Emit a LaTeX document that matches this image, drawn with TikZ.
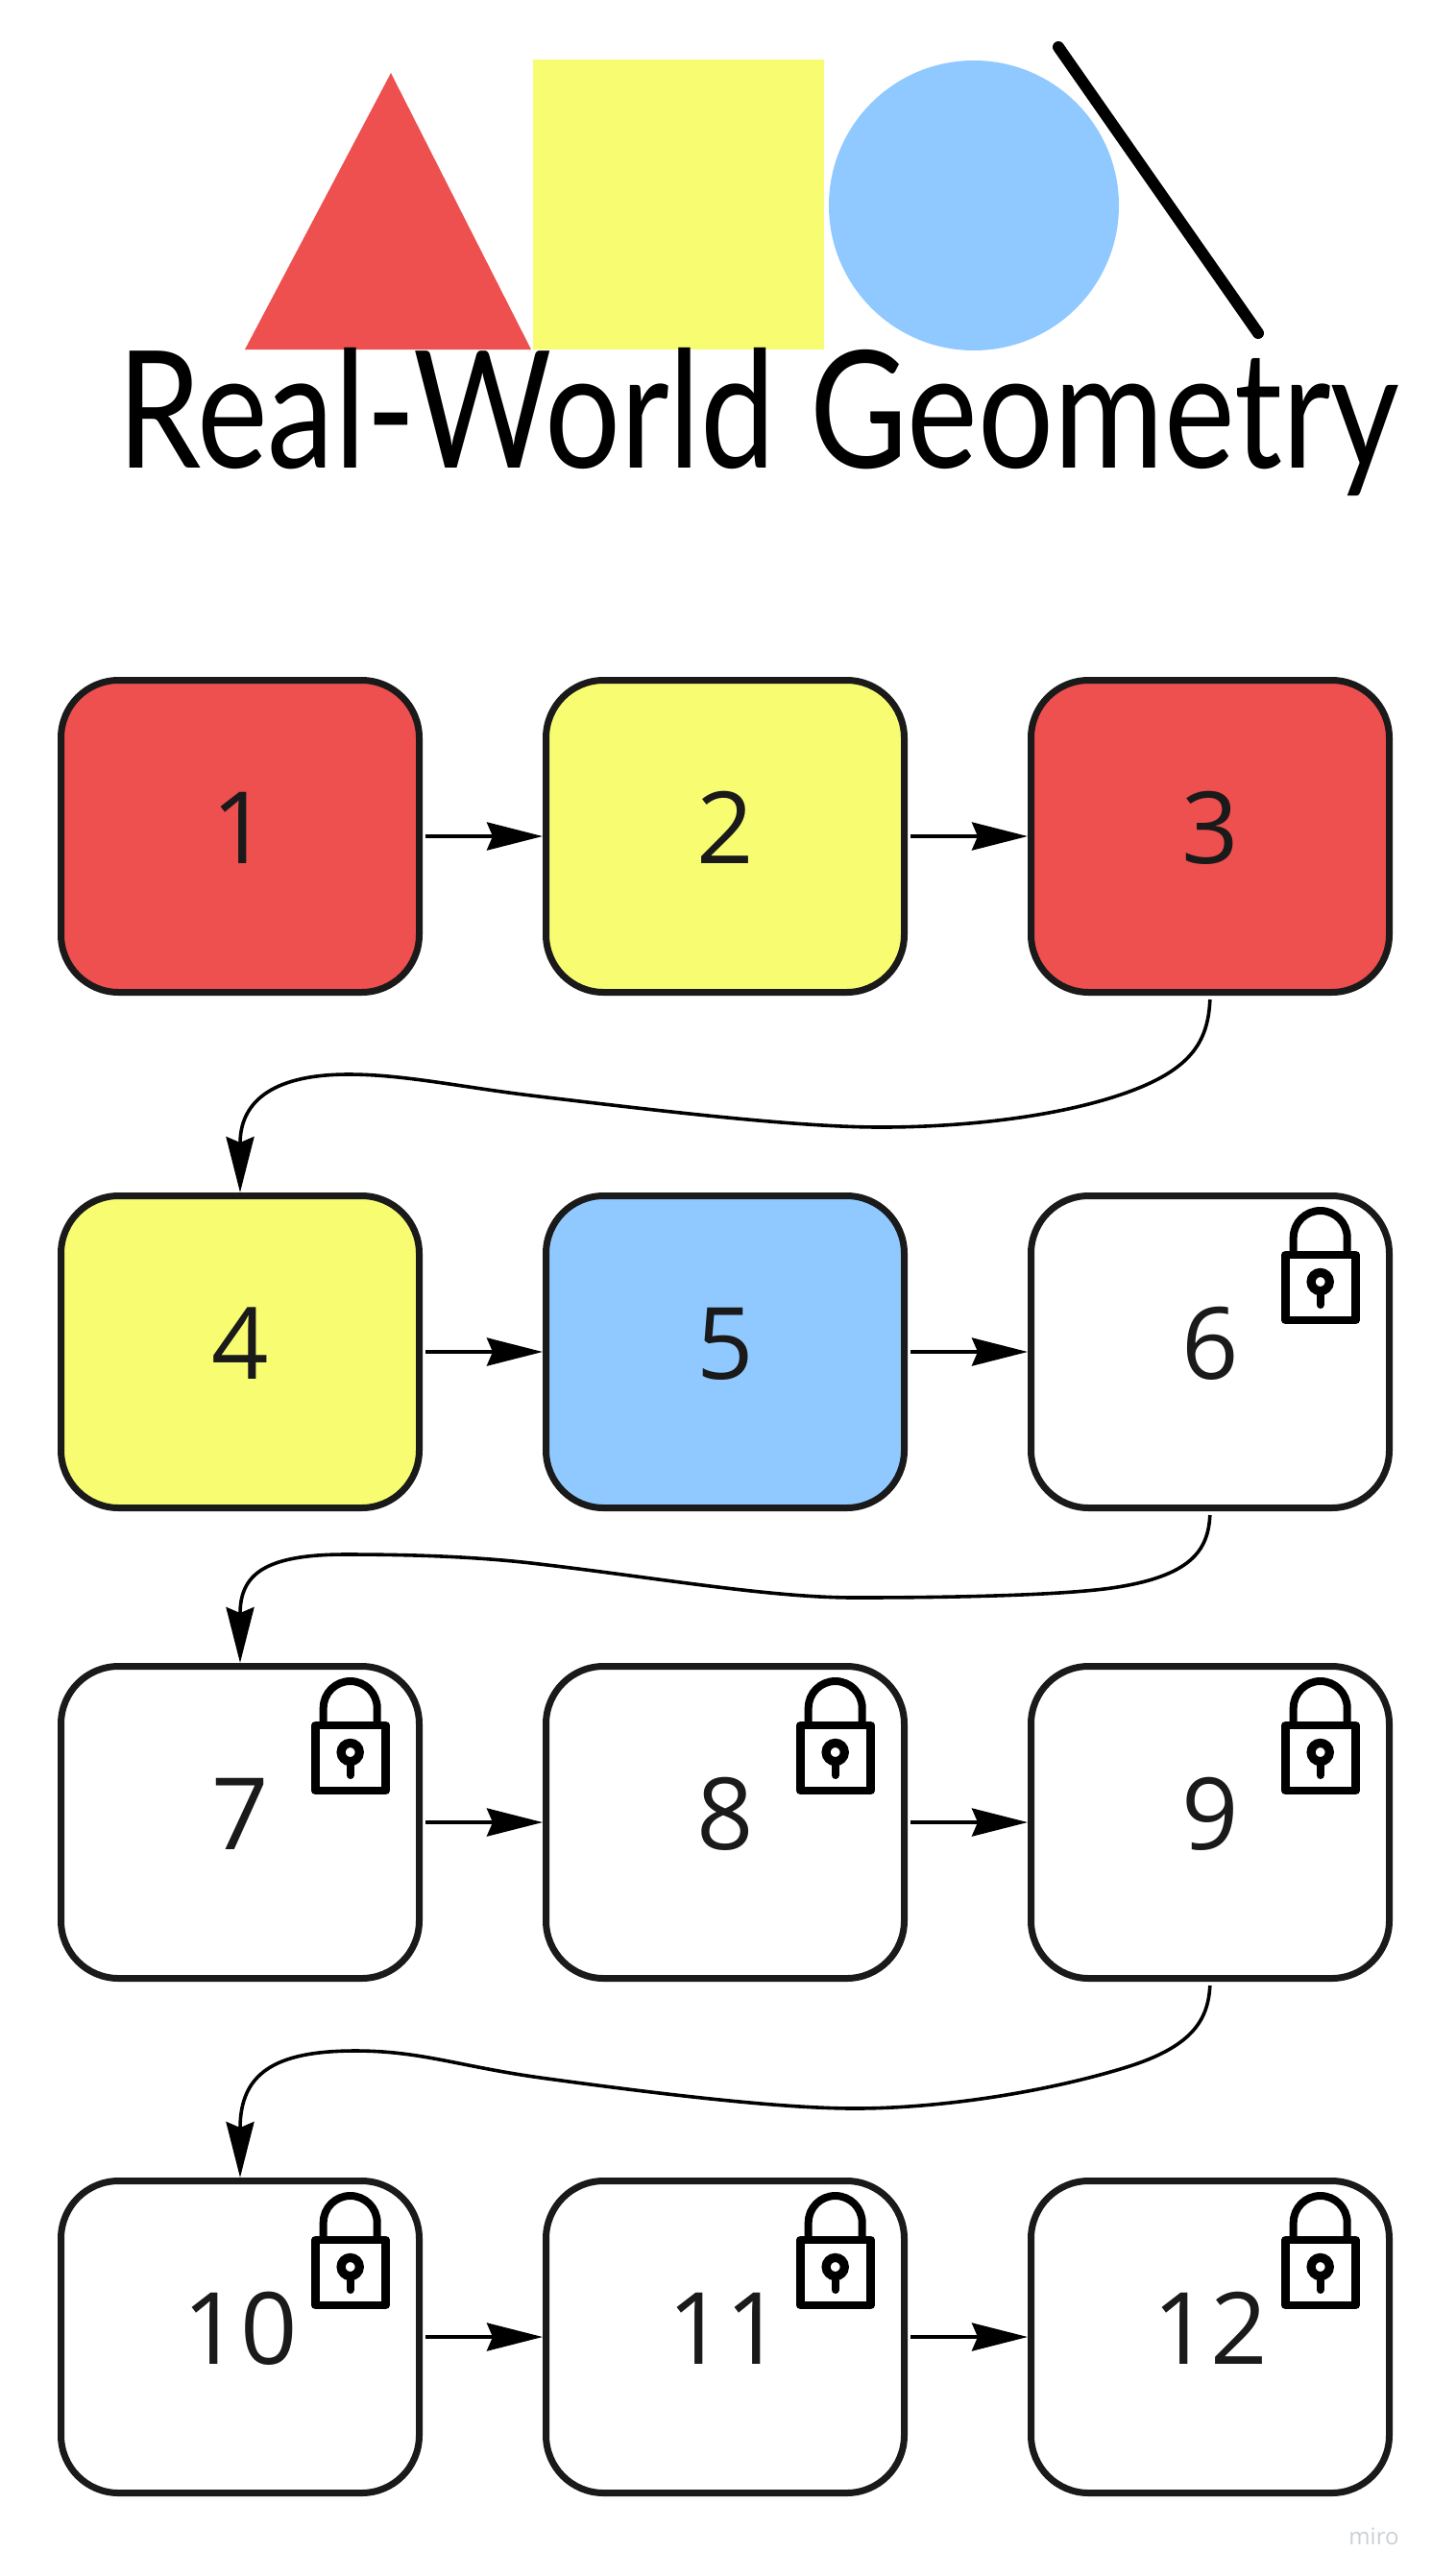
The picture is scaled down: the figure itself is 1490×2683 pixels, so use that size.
\documentclass[tikz,border=0pt]{standalone}
\usepackage{fontspec}
\setmainfont{Open Sans}
\newfontfamily\logofont{Lato}
\usetikzlibrary{positioning,arrows.meta}

\definecolor{shapered}{HTML}{EE4F4F}
\definecolor{shapeyellow}{HTML}{F7FC71}
\definecolor{shapeblue}{HTML}{8FC9FF}
\definecolor{boxline}{HTML}{1A1A1A}
\definecolor{markgray}{HTML}{CBD0D6}

\tikzset{
    level/.style={draw=boxline, line width=3.5pt, rectangle, rounded corners=30pt, inner sep=0pt,
        minimum width=186.5pt, minimum height=162.5pt, text=boxline,
        font=\fontsize{52}{52}\selectfont, text height=28pt, text depth=0pt},
    flowline/.style={line width=2pt, shorten <=1.5pt, -{Stealth[length=29pt,width=14.5pt,inset=3pt]}},
    wayline/.style={line width=1.8pt, shorten <=2pt, -{Stealth[length=29pt,width=14.5pt,inset=3pt]}},
    padlock/.pic={
        \draw[line width=4.3pt, line join=round] (78.3,-101) rectangle (151.7,-33);
        \draw[line width=4pt] (86.7,-101) -- (86.7,-119) arc[start angle=180, end angle=360, radius=28] -- (142.7,-101);
        \draw[line width=4.6pt] (114.7,-73) circle[radius=9.6];
        \draw[line width=4pt, line cap=round] (114.7,-64) -- (114.7,-49);
    }
}

\begin{document}
\begin{tikzpicture}[x=.5pt, y=-.5pt, node distance=62.5pt]
    \useasboundingbox (0,0) rectangle (1490,2683);

    % logo
    \fill[shapered] (255,364) -- (407,76) -- (553,364) -- cycle;
    \fill[shapeyellow] (555,62) rectangle (858,364);
    \fill[shapeblue] (1014,214) circle[radius=151];
    \draw[line width=6pt, line cap=round] (1102,49) -- (1310,347);
    \node[anchor=base west, inner sep=0pt, xscale=.82, transform shape, font=\logofont\fontsize{85}{85}\selectfont] (title) at (122,487) {Real-World Geometry};

    % rows
    \node[level, fill=shapered] (box1) at (250,871) {1};
    \node[level, fill=shapeyellow, right=of box1] (box2) {2};
    \node[level, fill=shapered, right=of box2] (box3) {3};
    \node[level, fill=shapeyellow, below=102.5pt of box1] (box4) {4};
    \node[level, fill=shapeblue, right=of box4] (box5) {5};
    \node[level, right=of box5] (box6) {6};
    \node[level, below=79pt of box4] (box7) {7};
    \node[level, right=of box7] (box8) {8};
    \node[level, right=of box8] (box9) {9};
    \node[level, below=102pt of box7] (box10) {10};
    \node[level, right=of box10] (box11) {11};
    \node[level, right=of box11] (box12) {12};

    % locks
    \pic at (box6.center) {padlock};
    \pic at (box7.center) {padlock};
    \pic at (box8.center) {padlock};
    \pic at (box9.center) {padlock};
    \pic at (box10.center) {padlock};
    \pic at (box11.center) {padlock};
    \pic at (box12.center) {padlock};

    % arrows
    \draw[flowline] (box1) -- (box2);
    \draw[flowline] (box2) -- (box3);
    \draw[flowline] (box4) -- (box5);
    \draw[flowline] (box5) -- (box6);
    \draw[flowline] (box7) -- (box8);
    \draw[flowline] (box8) -- (box9);
    \draw[flowline] (box10) -- (box11);
    \draw[flowline] (box11) -- (box12);

    \draw[wayline] (box3.south) .. controls (1258,1085) and (1240,1114) .. (1173,1138)
        .. controls (1100,1164) and (1000,1174) .. (917,1174)
        .. controls (830,1174) and (690,1157.4) .. (553,1141)
        .. controls (480,1132.2) and (420,1119) .. (363,1119)
        .. controls (280,1119) and (250,1150) .. (box4.north);
    \draw[wayline] (box6.south) .. controls (1258,1615) and (1240,1642) .. (1157,1654)
        .. controls (1100,1662) and (980,1664) .. (890,1664)
        .. controls (800,1664) and (680,1642.6) .. (553,1628)
        .. controls (490,1620.8) and (420,1619) .. (360,1619)
        .. controls (275,1619) and (250,1640) .. (box7.north);
    \draw[wayline] (box9.south) .. controls (1258,2105) and (1240,2132) .. (1173,2153)
        .. controls (1090,2178.7) and (980,2196) .. (890,2196)
        .. controls (810,2196) and (680,2180) .. (570,2165)
        .. controls (480,2153) and (440,2136) .. (370,2136)
        .. controls (285,2136) and (250,2160) .. (box10.north);

    \node[anchor=base east, inner sep=0pt, text=markgray, font=\fontsize{12}{12}\selectfont] (mark) at (1457,2650) {miro};
\end{tikzpicture}
\end{document}
